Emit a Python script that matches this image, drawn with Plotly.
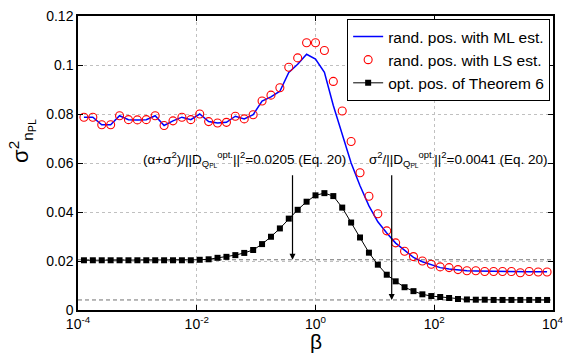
import numpy as np
import plotly.graph_objects as go

# log10(beta) sampling grid of the curves
log_beta = np.linspace(-3.9, 3.9, 53)
beta = 10 ** log_beta

ml_est = [0.0787, 0.0787, 0.0756, 0.0756, 0.0793, 0.0777, 0.0776, 0.0777, 0.0793, 0.0753,
          0.0772, 0.0787, 0.0777, 0.0800, 0.0769, 0.0763, 0.0766, 0.0791, 0.0780, 0.0797,
          0.0853, 0.0870, 0.0893, 0.0970, 0.1003, 0.1044, 0.1024, 0.0970, 0.0835, 0.0720,
          0.0600, 0.0507, 0.0425, 0.0360, 0.0314, 0.0273, 0.0242, 0.0215, 0.0197, 0.0184,
          0.0173, 0.0167, 0.0163, 0.0160, 0.0159, 0.0158, 0.0157, 0.0157, 0.0157, 0.0156,
          0.0156, 0.0156, 0.0156]

ls_est = [0.0787, 0.0787, 0.0756, 0.0756, 0.0793, 0.0777, 0.0776, 0.0777, 0.0793, 0.0753,
          0.0772, 0.0787, 0.0777, 0.0800, 0.0769, 0.0763, 0.0766, 0.0791, 0.0780, 0.0797,
          0.0853, 0.0877, 0.0907, 0.0991, 0.1029, 0.1091, 0.1091, 0.1059, 0.0933, 0.0812,
          0.0688, 0.0560, 0.0464, 0.0393, 0.0323, 0.0274, 0.0240, 0.0218, 0.0200, 0.0187,
          0.0176, 0.0173, 0.0165, 0.0160, 0.0160, 0.0157, 0.0157, 0.0157, 0.0157, 0.0152,
          0.0157, 0.0155, 0.0155]

opt_pos = [0.0203, 0.0203, 0.0203, 0.0203, 0.0203, 0.0203, 0.0203, 0.0203, 0.0203, 0.0203,
           0.0203, 0.0203, 0.0203, 0.0205, 0.0207, 0.0213, 0.0217, 0.0224, 0.0233, 0.0245,
           0.0269, 0.0299, 0.0333, 0.0373, 0.0409, 0.0442, 0.0468, 0.0477, 0.0465, 0.0418,
           0.0357, 0.0296, 0.0234, 0.0185, 0.0144, 0.0117, 0.0093, 0.0077, 0.0064, 0.0057,
           0.0053, 0.0049, 0.0045, 0.0043, 0.0042, 0.0042, 0.0041, 0.0041, 0.0041, 0.0041,
           0.0041, 0.0041, 0.0041]

bound_noise_alpha = 0.0205   # (alpha+sigma^2)/||D||^2
bound_noise = 0.0041         # sigma^2/||D||^2
arrow_beta = [0.41, 19.2]
arrow_top = 0.0556

x_tickvals = [1e-4, 1e-2, 1, 1e2]
x_ticktext = ["10<sup>-4</sup>", "10<sup>-2</sup>", "10<sup>0</sup>", "10<sup>2</sup>"]
x_last_tick = "10<sup>4</sup>"
y_tickvals = [0, 0.02, 0.04, 0.06, 0.08, 0.1, 0.12]
y_ticktext = ["0", "0.02", "0.04", "0.06", "0.08", "0.1", "0.12"]

FONT = "Liberation Sans, Arial, Helvetica, sans-serif"

fig = go.Figure()
fig.add_trace(go.Scatter(x=beta, y=ml_est, mode="lines", name="rand. pos. with ML est.",
                         line=dict(color="#0000ff", width=1.5)))
fig.add_trace(go.Scatter(x=beta, y=ls_est, mode="markers", name="rand. pos. with LS est.",
                         marker=dict(symbol="circle-open", size=8, color="#ff0000",
                                     line=dict(width=1.1, color="#ff0000"))))
fig.add_trace(go.Scatter(x=beta, y=opt_pos, mode="lines+markers", name="opt. pos. of Theorem 6",
                         line=dict(color="black", width=1),
                         marker=dict(symbol="square", size=6, color="black")))

for yv in [bound_noise_alpha, bound_noise]:
    fig.add_shape(type="line", xref="paper", x0=0, x1=1, yref="y", y0=yv, y1=yv,
                  line=dict(color="#707070", width=1, dash="4px,3px"), layer="below")

for xb, yb in zip(arrow_beta, [bound_noise_alpha, bound_noise]):
    fig.add_annotation(x=np.log10(xb), y=yb, ax=np.log10(xb), ay=arrow_top,
                       xref="x", yref="y", axref="x", ayref="y", text="",
                       showarrow=True, arrowhead=2, arrowsize=1, arrowwidth=1.2,
                       arrowcolor="black", standoff=0)

fig.add_annotation(x=np.log10(arrow_beta[0]) - 2.56, y=0.0617, xref="x", yref="y",
                   xanchor="left", yanchor="middle", showarrow=False,
                   text="(α+σ<sup>2</sup>)/||D<sub>Q<sub>PL</sub></sub><sup>opt.</sup>||<sup>2</sup>=0.0205 (Eq. 20)",
                   font=dict(family=FONT, size=13.5, color="black"))
fig.add_annotation(x=np.log10(arrow_beta[1]) - 0.42, y=0.0617, xref="x", yref="y",
                   xanchor="left", yanchor="middle", showarrow=False,
                   text="σ<sup>2</sup>/||D<sub>Q<sub>PL</sub></sub><sup>opt.</sup>||<sup>2</sup>=0.0041 (Eq. 20)",
                   font=dict(family=FONT, size=13.5, color="black"))

# last x tick label (at the right edge, partly outside the page like the reference)
fig.add_annotation(x=1, y=0, xref="paper", yref="paper", showarrow=False,
                   xanchor="center", yanchor="top", yshift=-2, text=x_last_tick,
                   font=dict(family=FONT, size=14, color="black"))

# axis titles
fig.add_annotation(x=0.5, y=-0.108, xref="paper", yref="paper", showarrow=False,
                   xanchor="center", yanchor="middle", text="β",
                   font=dict(family=FONT, size=21, color="black"))
fig.add_annotation(x=-0.118, y=0.575, xref="paper", yref="paper", showarrow=False,
                   xanchor="center", yanchor="middle", textangle=-90,
                   text="σ<sup>2</sup><sub>n<sub>PL</sub></sub>",
                   font=dict(family=FONT, size=22, color="black"))

fig.update_xaxes(type="log", range=[-4, 4], tickvals=x_tickvals, ticktext=x_ticktext,
                 ticks="inside", ticklen=5, tickcolor="black", tickwidth=1,
                 showline=True, linecolor="black", linewidth=1.5, mirror="ticks",
                 showgrid=True, gridcolor="#c0c0c0", griddash="dot", gridwidth=1,
                 zeroline=False, tickfont=dict(family=FONT, size=14, color="black"))
fig.update_yaxes(range=[0, 0.12], tickvals=y_tickvals, ticktext=y_ticktext,
                 ticks="inside", ticklen=5, tickcolor="black", tickwidth=1,
                 showline=True, linecolor="black", linewidth=1.5, mirror="ticks",
                 showgrid=True, gridcolor="#c0c0c0", griddash="dot", gridwidth=1,
                 zeroline=False, tickfont=dict(family=FONT, size=14, color="black"))

fig.update_layout(
    width=563, height=356,
    margin=dict(l=78, r=8, t=10, b=46),
    paper_bgcolor="white", plot_bgcolor="white",
    font=dict(family=FONT, size=14, color="black"),
    showlegend=True,
    legend=dict(x=0.994, y=0.99, xanchor="right", yanchor="top",
                bgcolor="white", bordercolor="black", borderwidth=1,
                font=dict(family=FONT, size=15.5, color="black"),
                itemwidth=30, tracegroupgap=0),
)

fig.write_html("out.html")
